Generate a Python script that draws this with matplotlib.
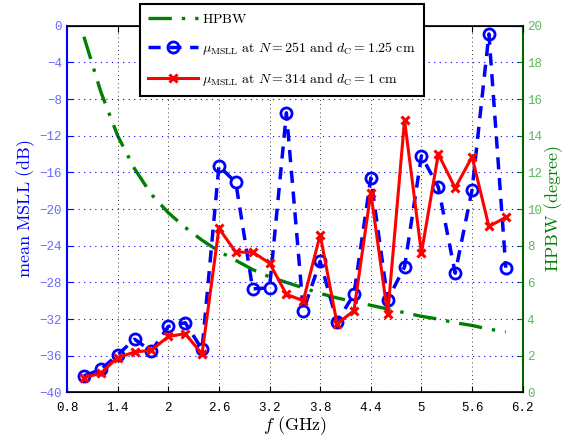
import numpy as np
import matplotlib
matplotlib.use("Agg")
import matplotlib.pyplot as plt

plt.rcParams['mathtext.fontset'] = 'cm'

# frequency points (GHz)
freq = [1.0, 1.2, 1.4, 1.6, 1.8, 2.0, 2.2, 2.4, 2.6, 2.8, 3.0, 3.2, 3.4,
        3.6, 3.8, 4.0, 4.2, 4.4, 4.6, 4.8, 5.0, 5.2, 5.4, 5.6, 5.8, 6.0]

# mean MSLL, N = 251, dC = 1.25 cm (dB)
msll_251 = [-38.2, -37.5, -35.9, -34.2, -35.5, -32.8, -32.4, -35.3, -15.3,
            -17.1, -28.7, -28.6, -9.5, -31.1, -25.7, -32.3, -29.3, -16.6,
            -29.9, -26.3, -14.2, -17.6, -27.0, -17.9, -0.9, -26.4]

# mean MSLL, N = 314, dC = 1 cm (dB)
msll_314 = [-38.4, -37.9, -36.2, -35.6, -35.4, -33.9, -33.6, -35.8, -22.1,
            -24.7, -24.7, -25.9, -29.3, -30.0, -22.8, -32.5, -31.1, -18.2,
            -31.5, -10.3, -24.8, -14.0, -17.7, -14.3, -21.9, -20.9]

# half power beamwidth (degree)
hpbw = [19.4, 16.4, 14.0, 12.2, 10.8, 9.8, 9.0, 8.3, 7.7, 7.2, 6.7, 6.3, 6.0,
        5.7, 5.4, 5.15, 4.95, 4.75, 4.55, 4.35, 4.15, 4.0, 3.8, 3.65, 3.45, 3.3]

xticks = [0.8, 1.4, 2.0, 2.6, 3.2, 3.8, 4.4, 5.0, 5.6, 6.2]
xtick_labels = ['0.8', '1.4', '2', '2.6', '3.2', '3.8', '4.4', '5', '5.6', '6.2']

fig = plt.figure(figsize=(5.69, 4.44), dpi=100)
ax = fig.add_axes([0.1178, 0.1162, 0.8008, 0.8259])
ax2 = ax.twinx()
ax.set_zorder(ax2.get_zorder() + 1)
ax.patch.set_visible(False)

green = (0.0, 0.5, 0.0)
l1, = ax2.plot(freq, hpbw, color=green, lw=2.4, linestyle=(0, (7, 3, 1, 3)))
l2, = ax.plot(freq, msll_251, color='blue', lw=2.5, linestyle=(0, (3.5, 2.5)),
              marker='o', ms=8, mfc='none', mew=2)
l3, = ax.plot(freq, msll_314, color='red', lw=2.2, marker='x', ms=6, mew=2.2)

ax.set_xlim(0.8, 6.2)
ax.set_ylim(-40, 0)
ax2.set_ylim(0, 20)
ax.set_xticks(xticks)
ax.set_xticklabels(xtick_labels)
ax.set_yticks(np.arange(-40, 1, 4))
ax2.set_yticks(np.arange(0, 21, 2))

mono = 'Liberation Mono'
for t in ax.get_xticklabels():
    t.set_family(mono)
    t.set_fontsize(9)
for t in ax.get_yticklabels():
    t.set_family(mono)
    t.set_fontsize(9)
    t.set_color('#6a6aff')
for t in ax2.get_yticklabels():
    t.set_family(mono)
    t.set_fontsize(9)
    t.set_color('#5cb85c')

ax.tick_params(axis='x', direction='in', length=4, top=True, pad=7)
ax.tick_params(axis='y', direction='in', length=4, color='blue')
ax2.tick_params(axis='y', direction='in', length=4, color=green, pad=3)

ax.grid(True, axis='y', color='blue', linestyle=(0, (1, 4)), lw=0.8)
ax.grid(True, axis='x', color='black', linestyle=(0, (1, 4)), lw=0.6)

ax.spines['left'].set_color('blue')
ax.spines['left'].set_linewidth(1.5)
ax2.spines['left'].set_visible(False)
ax2.spines['right'].set_color((0.0, 0.4, 0.0))
ax2.spines['right'].set_linewidth(1.5)
ax.spines['right'].set_visible(False)
for s in ['top', 'bottom']:
    ax.spines[s].set_linewidth(1.2)

ax.set_xlabel(r'$f\ \mathrm{(GHz)}$', fontsize=13, labelpad=0)
ax.set_ylabel(r'$\mathrm{mean\ MSLL\ (dB)}$', fontsize=13, color='blue', labelpad=2)
ax2.set_ylabel(r'$\mathrm{HPBW\ (degree)}$', fontsize=13, color=green, labelpad=0)

leg = fig.legend([l1, l2, l3],
                 [r'$\mathrm{HPBW}$',
                  r'$\mu_{\mathrm{MSLL}}\ \mathrm{at}\ N=251\ \mathrm{and}\ d_{\mathrm{C}}=1.25\ \mathrm{cm}$',
                  r'$\mu_{\mathrm{MSLL}}\ \mathrm{at}\ N=314\ \mathrm{and}\ d_{\mathrm{C}}=1\ \mathrm{cm}$'],
                 loc='upper left', bbox_to_anchor=(140 / 569, 1 - 4 / 444),
                 borderaxespad=0, fontsize=10, fancybox=False, framealpha=1,
                 edgecolor='black', handlelength=3.6, borderpad=0.6,
                 labelspacing=1.0, handletextpad=0.3)
leg.get_frame().set_linewidth(1.5)
leg.set_zorder(10)

fig.savefig('out.png', dpi=100)
